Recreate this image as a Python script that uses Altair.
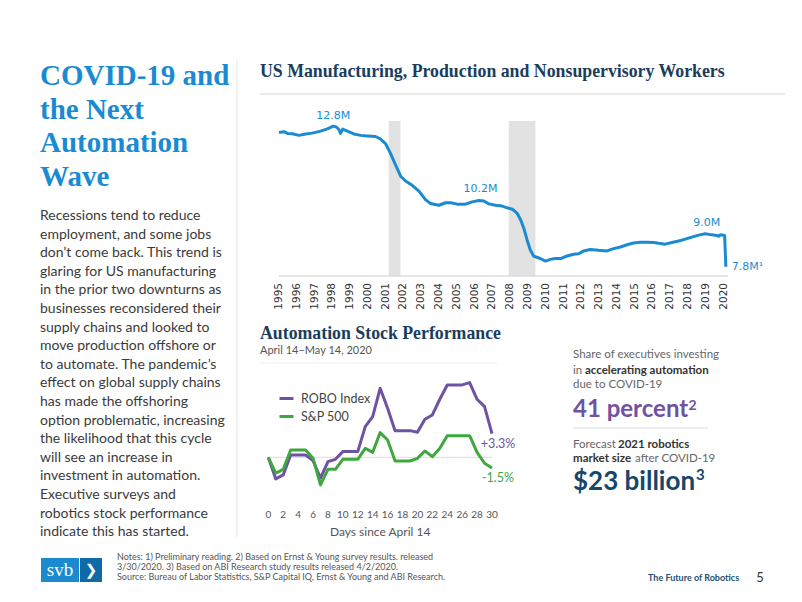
import altair as alt
import pandas as pd

# ---------------- data: US manufacturing production & nonsupervisory workers (millions)
mfg_years = [1995.0, 1995.28, 1995.47, 1995.75, 1996.12, 1996.5, 1996.87, 1997.34, 1997.72, 1998.05,
             1998.24, 1998.37, 1998.46, 1998.58, 1998.84, 1999.21, 1999.59, 1999.96, 2000.43, 2000.71,
             2000.99, 2001.27, 2001.56, 2001.84, 2002.12, 2002.49, 2002.87, 2003.24, 2003.52, 2003.99,
             2004.37, 2004.65, 2005.02, 2005.49, 2005.86, 2006.24, 2006.52, 2006.8, 2007.17, 2007.55,
             2007.83, 2008.12, 2008.4, 2008.6, 2008.8, 2008.95, 2009.14, 2009.33, 2009.7, 2009.98,
             2010.26, 2010.54, 2010.83, 2011.2, 2011.57, 2011.85, 2012.13, 2012.5, 2012.98, 2013.44,
             2013.82, 2014.2, 2014.57, 2014.94, 2015.32, 2015.69, 2016.07, 2016.35, 2016.72, 2017.1,
             2017.47, 2017.85, 2018.21, 2018.6, 2018.97, 2019.34, 2019.62, 2019.72, 2019.81, 2020.06,
             2020.13]
mfg_values = [12.56, 12.59, 12.53, 12.52, 12.46, 12.51, 12.54, 12.61, 12.69, 12.79,
              12.75, 12.67, 12.53, 12.68, 12.61, 12.51, 12.46, 12.44, 12.42, 12.33,
              12.17, 11.82, 11.4, 11.01, 10.84, 10.69, 10.48, 10.18, 10.04, 9.98,
              10.07, 10.07, 10.02, 10.02, 10.1, 10.15, 10.13, 10.03, 9.98, 9.95,
              9.89, 9.84, 9.69, 9.45, 9.1, 8.75, 8.38, 8.17, 8.09, 8.0,
              8.06, 8.09, 8.09, 8.18, 8.24, 8.26, 8.36, 8.41, 8.38, 8.36,
              8.44, 8.5, 8.58, 8.64, 8.67, 8.67, 8.66, 8.63, 8.6, 8.66,
              8.71, 8.78, 8.85, 8.92, 8.97, 8.93, 8.91, 8.88, 8.93, 8.91,
              7.8]
recession_start = [2001.17, 2007.92]
recession_end = [2001.83, 2009.42]
axis_years = list(range(1995, 2021))
peak_years = [1998.05, 2006.33, 2019.06]
peak_values = [12.8, 10.2, 9.0]
last_year = 2020.13
last_value = 7.8

# ---------------- data: automation stock performance (% change since April 14)
days = list(range(31))
robo = [0, -3.0, -2.45, 0.32, 0.32, 0.32, -0.46, -2.9, -0.6, -0.28, 0.79, 0.79, 0.79, 4.26, 5.65,
        9.58, 6.8, 3.7, 3.7, 3.7, 3.47, 5.28, 5.88, 8.06, 10.05, 10.05, 10.05, 10.37, 8.06, 7.04, 3.3]
sp500 = [0, -2.2, -1.67, 1.02, 1.02, 1.02, -0.14, -3.84, -1.67, -1.67, -0.28, -0.28, -0.28, 1.25, 0.69,
         3.43, 2.4, -0.51, -0.51, -0.51, -0.14, 0.88, 0.09, 1.25, 3.0, 3.0, 3.0, 3.0, 0.69, -0.83, -1.5]
series_names = ["ROBO Index", "S&P 500"]
day_ticks = list(range(0, 31, 2))

# ---------------- text
left_title = ["COVID-19 and", "the Next", "Automation", "Wave"]
paragraph = [
    "Recessions tend to reduce",
    "employment, and some jobs",
    "don\u2019t come back. This trend is",
    "glaring for US manufacturing",
    "in the prior two downturns as",
    "businesses reconsidered their",
    "supply chains and looked to",
    "move production offshore or",
    "to automate. The pandemic\u2019s",
    "effect on global supply chains",
    "has made the offshoring",
    "option problematic, increasing",
    "the likelihood that this cycle",
    "will see an increase in",
    "investment in automation.",
    "Executive surveys and",
    "robotics stock performance",
    "indicate this has started.",
]
notes = [
    "Notes: 1) Preliminary reading. 2) Based on Ernst & Young survey results. released",
    "3/30/2020. 3) Based on ABI Research study results released 4/2/2020.",
    "Source: Bureau of Labor Statistics, S&P Capital IQ, Ernst & Young and ABI Research.",
]

BLUE = "#1a8bd3"
NAVY = "#1b3d5c"
PURPLE = "#6f52a3"
GREEN = "#3ea83f"
GRAY_TXT = "#3a3a3a"
SERIF = "Liberation Serif"
SANS = "Lato"

one = pd.DataFrame({"k": [0]})

# ---------------- top chart
xs_top = alt.Scale(domain=[1995, 2020.25], range=[271, 720], nice=False, zero=False)
ys_top = alt.Scale(domain=[7.47, 12.97], range=[268, 113], nice=False, zero=False)

df_mfg = pd.DataFrame({"year": mfg_years, "value": mfg_values})
df_rec = pd.DataFrame({"start": recession_start, "end": recession_end})
df_ax = pd.DataFrame({"yr": axis_years})
df_peaks = pd.DataFrame({"year": peak_years, "value": peak_values,
                         "label": [f"{v:.1f}M" for v in peak_values]})
df_last = pd.DataFrame({"year": [last_year], "value": [last_value],
                        "label": [f"{last_value:.1f}M\u00b9"]})

bands = alt.Chart(df_rec).mark_rect(color="#e2e2e2").encode(
    x=alt.X("start:Q", scale=xs_top, axis=None),
    x2="end:Q",
    y=alt.YDatum(12.97, type="quantitative", scale=ys_top, axis=None),
    y2=alt.Y2Datum(7.47),
)
axis_line = alt.Chart(one).mark_rule(color="#dddddd", strokeWidth=1.5).encode(
    x=alt.XDatum(1995, type="quantitative", scale=xs_top, axis=None),
    x2=alt.X2Datum(2020.25),
    y=alt.YDatum(7.47, type="quantitative", scale=ys_top, axis=None),
)
mfg_line = alt.Chart(df_mfg).mark_line(color=BLUE, strokeWidth=3, strokeJoin="round").encode(
    x=alt.X("year:Q", scale=xs_top, axis=None),
    y=alt.Y("value:Q", scale=ys_top, axis=None),
)
year_labels = alt.Chart(df_ax).mark_text(angle=270, align="right", baseline="middle",
                                         fontSize=10.5, font="DejaVu Sans", color="#333333").encode(
    x=alt.X("yr:Q", scale=xs_top, axis=None),
    y=alt.value(275),
    text=alt.Text("yr:Q", format="d"),
)
peak_text = alt.Chart(df_peaks).mark_text(dy=-10, fontSize=11, font="DejaVu Sans", color=BLUE,
                                          baseline="middle").encode(
    x=alt.X("year:Q", scale=xs_top, axis=None),
    y=alt.Y("value:Q", scale=ys_top, axis=None),
    text="label:N",
)
last_text = alt.Chart(df_last).mark_text(dx=6, align="left", fontSize=11, font="DejaVu Sans",
                                         color=BLUE, baseline="middle").encode(
    x=alt.X("year:Q", scale=xs_top, axis=None),
    y=alt.Y("value:Q", scale=ys_top, axis=None),
    text="label:N",
)
top = alt.layer(bands, axis_line, mfg_line, year_labels, peak_text, last_text)

# ---------------- stock chart
xs_st = alt.Scale(domain=[0, 30], range=[260.3, 484], nice=False, zero=False)
ys_st = alt.Scale(domain=[-6, 12], range=[492.5, 362.9], nice=False, zero=False)
col_scale = alt.Scale(domain=series_names, range=[PURPLE, GREEN])

df_st = pd.DataFrame({
    "day": days * 2,
    "pct": robo + sp500,
    "series": [series_names[0]] * len(days) + [series_names[1]] * len(days),
})
df_end = pd.DataFrame({
    "day": [days[-1], days[-1]],
    "pct": [robo[-1], sp500[-1]],
    "series": series_names,
    "label": [f"{robo[-1]:+.1f}%", f"{sp500[-1]:+.1f}%".replace("+", "")],
})

zero_rule = alt.Chart(one).mark_rule(color="#dcdcdc", strokeWidth=1).encode(
    x=alt.XDatum(0, type="quantitative", scale=xs_st, axis=None),
    x2=alt.X2Datum(30),
    y=alt.YDatum(0, type="quantitative", scale=ys_st, axis=None),
)
st_lines = alt.Chart(df_st).mark_line(strokeWidth=3, strokeJoin="round").encode(
    x=alt.X("day:Q", scale=xs_st, axis=None),
    y=alt.Y("pct:Q", scale=ys_st, axis=None),
    color=alt.Color("series:N", scale=col_scale,
                    legend=alt.Legend(orient="none", legendX=270, legendY=382, title=None,
                                      direction="vertical", symbolType="stroke",
                                      symbolStrokeWidth=3, symbolSize=196, labelFont=SANS,
                                      labelFontSize=12.5, labelColor="#444444", rowPadding=3,
                                      padding=0, labelOffset=6)),
)
day_labels = alt.Chart(pd.DataFrame({"d": day_ticks})).mark_text(
    fontSize=10, font=SANS, color="#555555", baseline="middle").encode(
    x=alt.X("d:Q", scale=xs_st, axis=None),
    y=alt.value(507),
    text="d:Q",
)
day_title = alt.Chart(one).mark_text(text="Days since April 14", fontSize=12, font=SANS,
                                     color="#555555", baseline="middle").encode(
    x=alt.XDatum(15, type="quantitative", scale=xs_st, axis=None),
    y=alt.value(524),
)
end_labels = alt.Chart(df_end).mark_text(dx=6, dy=10, fontSize=12.5, font=SANS, baseline="middle").encode(
    x=alt.X("day:Q", scale=xs_st, axis=None),
    y=alt.Y("pct:Q", scale=ys_st, axis=None),
    color=alt.Color("series:N", scale=col_scale, legend=None),
    text="label:N",
)
stock = alt.layer(zero_rule, st_lines, day_labels, day_title, end_labels)


# ---------------- static text & decorations
def txt(text, x, y, size, color, font=SANS, weight="normal", baseline="alphabetic",
        align="left", line_height=None):
    kw = dict(text=text, fontSize=size, color=color, font=font, fontWeight=weight,
              baseline=baseline, align=align)
    if line_height is not None:
        kw["lineHeight"] = line_height
    return alt.Chart(one).mark_text(**kw).encode(x=alt.value(x), y=alt.value(y))


def rule(x1, x2, y1, y2, color, width=1):
    return alt.Chart(one).mark_rule(color=color, strokeWidth=width).encode(
        x=alt.value(x1), x2=alt.value(x2), y=alt.value(y1), y2=alt.value(y2))


def box(x1, x2, y1, y2, color):
    return alt.Chart(one).mark_rect(color=color).encode(
        x=alt.value(x1), x2=alt.value(x2), y=alt.value(y1), y2=alt.value(y2))


STAT = 11.5
static = alt.layer(
    # left column
    txt(left_title, 32, 77, 29, BLUE, font=SERIF, weight="bold", line_height=33.7),
    txt(paragraph, 32, 212, 14, GRAY_TXT, line_height=18.6),
    rule(229, 229, 52, 529, "#e4e4e4"),
    # top chart title
    txt("US Manufacturing, Production and Nonsupervisory Workers", 252, 69, 17.8, NAVY,
        font=SERIF, weight="bold"),
    rule(252, 777, 86, 86, "#d4d4d4"),
    # stock chart title
    txt("Automation Stock Performance", 252, 331, 17.8, NAVY, font=SERIF, weight="bold"),
    txt("April 14\u2013May 14, 2020", 252, 346, 11, "#555555"),
    rule(252, 490, 355, 355, "#eeeeee"),
    # stats panel
    txt("Share of executives investing", 565, 347, STAT, "#666666", baseline="middle"),
    txt("in", 565, 362.7, STAT, "#666666", baseline="middle"),
    txt("accelerating automation", 577, 362.7, STAT, "#333333", weight="bold", baseline="middle"),
    txt("due to COVID-19", 565, 377, STAT, "#666666", baseline="middle"),
    txt("41 percent", 565, 409, 24, PURPLE, weight="bold"),
    txt("2", 680.5, 402, 14, PURPLE, weight="bold"),
    rule(565, 700, 420, 420, "#dddddd"),
    txt("Forecast", 565, 437, STAT, "#666666", baseline="middle"),
    txt("2021 robotics", 610, 437, STAT, "#333333", weight="bold", baseline="middle"),
    txt("market size", 565, 451, STAT, "#333333", weight="bold", baseline="middle"),
    txt("after COVID-19", 627, 451, STAT, "#666666", baseline="middle"),
    txt("$23 billion", 565, 482, 26, "#17466b", weight="bold"),
    txt("3", 688, 472, 15, "#17466b", weight="bold"),
    # footer
    box(33, 71, 550, 574, "#1b8ad0"),
    box(72, 94, 550, 574, "#0f6aa8"),
    txt("svb", 52, 562, 19, "white", font=SERIF, baseline="middle", align="center"),
    txt("\u276f", 83, 562, 15, "white", font="DejaVu Sans", weight="bold", baseline="middle",
        align="center"),
    txt(notes, 109, 552, 9, "#555555", line_height=10),
    txt("The Future of Robotics", 640, 570, 9, "#1f4e70", weight="bold", baseline="middle"),
    txt("5", 752, 570, 13, "#333333", baseline="middle", align="center"),
)

chart = alt.layer(top, stock, static).resolve_scale(
    x="independent", y="independent", color="independent"
).properties(
    width=786, height=586, autosize=alt.AutoSizeParams(type="none"), padding=0,
    background="white",
).configure_view(stroke=None)

chart.save("out.html", embed_options={"renderer": "svg", "actions": False})
